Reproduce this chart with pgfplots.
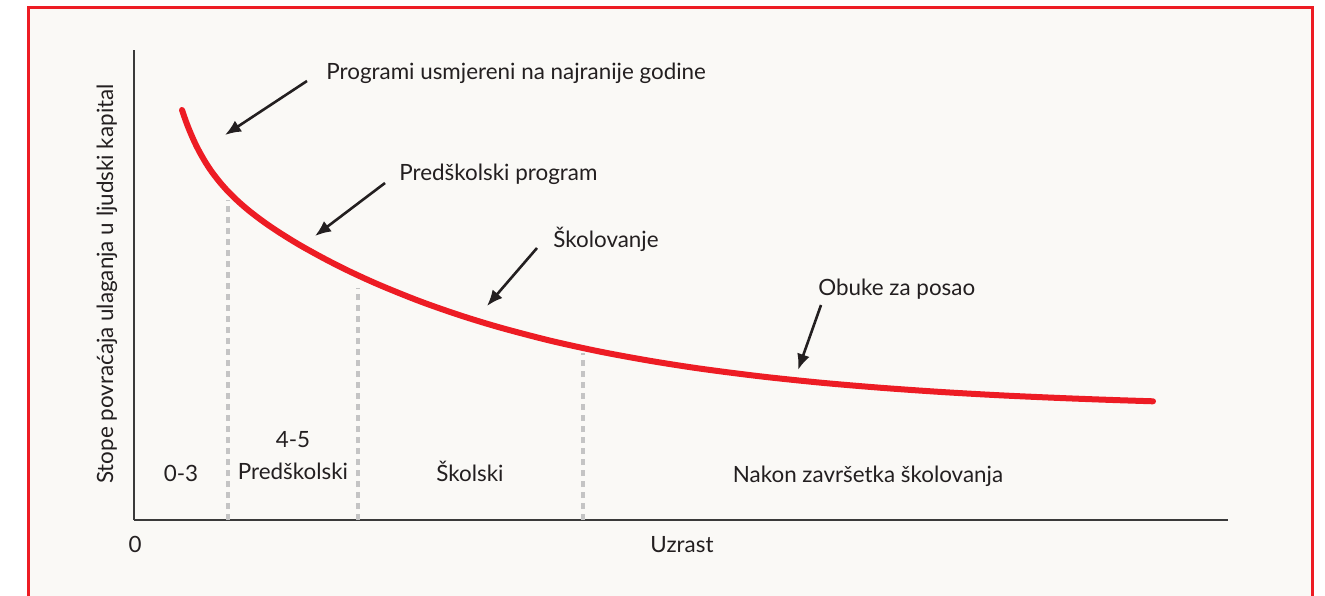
\documentclass[border=0pt]{standalone}
\usepackage{fontspec}
\setmainfont{Lato}
\usepackage{pgfplots}
\pgfplotsset{compat=1.18}
\usetikzlibrary{arrows.meta}
\definecolor{cred}{HTML}{ED1C24}
\definecolor{cbg}{HTML}{FAF9F6}
\definecolor{cgrid}{HTML}{C4C4C4}
\definecolor{caxis}{HTML}{3A3A3A}
\definecolor{ctext}{HTML}{231F20}
\tikzset{lbl/.style={font=\fontsize{11.2}{13}\selectfont, text=ctext, inner sep=0pt}}
\begin{document}
\begin{tikzpicture}
\useasboundingbox (-67pt,-37.5pt) rectangle (595.5pt,260pt);
\fill[white] (-67pt,-37.5pt) rectangle (595.5pt,260pt);
\fill[cbg] (-52.5pt,-50pt) rectangle (589pt,256pt);
\draw[cred,line width=1.5pt] (-52.5pt,-50pt) -- (-52.5pt,256pt) -- (589pt,256pt) -- (589pt,-50pt);
\begin{axis}[
  x=0.5pt, y=0.5pt,
  xmin=134, xmax=1228, ymin=75, ymax=545,
  axis lines=left,
  axis line style={draw=caxis, line width=1pt, -},
  xtick=\empty, ytick=\empty,
  clip=false,
]
% dotted guide lines
\addplot[cgrid, line width=1.7pt, dash pattern=on 3pt off 2.5pt] coordinates {(228,75) (228,395)};
\addplot[cgrid, line width=1.7pt, dash pattern=on 3pt off 2.5pt] coordinates {(358,75) (358,307)};
\addplot[cgrid, line width=1.7pt, dash pattern=on 3pt off 2.5pt] coordinates {(583,75) (583,242)};
% curve
\addplot[cred, line width=3pt, line cap=round, smooth] coordinates {
(182,485.0) (186,473.5) (190,463.3) (195,452.0) (200,442.2) (206,431.9) (212,422.9)
(220,412.6) (228,403.6) (238,393.8) (250,383.5) (265,372.2) (280,362.1) (300,349.8)
(325,336.0) (350,323.4) (380,309.8) (420,293.7) (460,279.7) (500,267.5) (550,254.4)
(600,243.4) (650,234.2) (700,226.4) (760,218.7) (820,212.4) (880,207.3) (940,203.1)
(1000,199.7) (1060,197.0) (1110,195.1) (1153,193.7)};
% arrows
\draw[ctext, line width=1.3pt, -{Latex[length=8pt,width=6.5pt]}] (307,514) -- (225,460);
\draw[ctext, line width=1.3pt, -{Latex[length=8pt,width=6.5pt]}] (385,412) -- (315,359);
\draw[ctext, line width=1.3pt, -{Latex[length=8pt,width=6.5pt]}] (537,347) -- (487,289);
\draw[ctext, line width=1.3pt, -{Latex[length=8pt,width=6.5pt]}] (821,290) -- (798,225);
% labels
\node[lbl, anchor=base west] at (326,515) {Programi usmjereni na najranije godine};
\node[lbl, anchor=base west] at (399,414) {Predškolski program};
\node[lbl, anchor=base west] at (553,348) {Školovanje};
\node[lbl, anchor=base west] at (818,300) {Obuke za posao};
\node[lbl, anchor=base] at (181,114) {0-3};
\node[lbl, anchor=base] at (293,148) {4-5};
\node[lbl, anchor=base] at (293,116) {Predškolski};
\node[lbl, anchor=base] at (470,114) {Školski};
\node[lbl, anchor=base] at (868,113) {Nakon završetka školovanja};
\node[lbl, anchor=base] at (682,43) {Uzrast};
\node[lbl, anchor=base] at (135,43) {0};
\node[lbl, anchor=base, rotate=90] at (113,311) {Stope povraćaja ulaganja u ljudski kapital};
\end{axis}
\end{tikzpicture}
\end{document}
